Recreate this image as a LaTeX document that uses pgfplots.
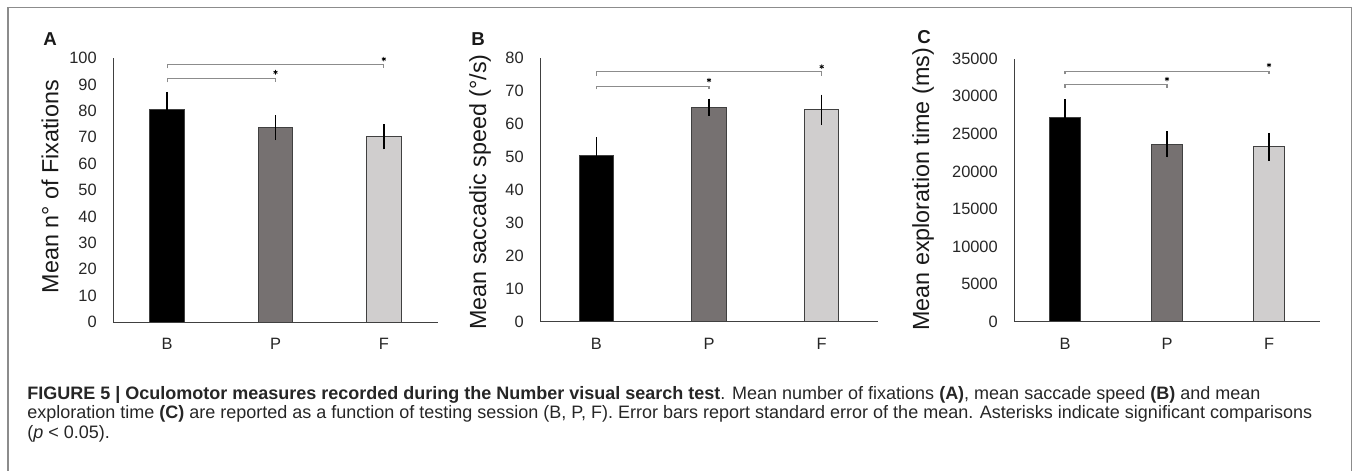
\documentclass[border=0pt]{standalone}
\usepackage{fontspec}
\setmainfont{Liberation Sans}
\usepackage{pgfplots}
\pgfplotsset{compat=1.18}

\definecolor{barP}{HTML}{767171}
\definecolor{barF}{HTML}{D0CECE}
\definecolor{edge}{HTML}{404040}
\definecolor{brk}{HTML}{8C8C8C}

\pgfplotsset{
  panel/.style={
    scale only axis,
    axis x line=bottom, axis y line=left,
    axis line style={black!75, line width=0.75pt, -},
    xmin=-0.5, xmax=2.5, ymin=0,
    xtick={0,1,2}, xticklabels={B,P,F},
    major tick length=0pt,
    scaled y ticks=false,
    /pgf/number format/assume math mode=true,
    /pgf/number format/1000 sep={},
    tick label style={font=\fontsize{12.3}{13}\selectfont, text=black!85},
    yticklabel style={inner sep=0pt, xshift=-12pt},
    xticklabel style={inner sep=0pt, anchor=north, yshift=-12pt},
    clip=false,
  },
  bar/.style={ybar, bar shift=0pt, draw=edge, line width=0.6pt,
    error bars/y dir=both, error bars/y explicit,
    error bars/error mark=none,
    error bars/error bar style={black, line width=1.1pt}},
  bracket/.style={brk, line width=0.8pt, sharp plot, mark=none},
  star/.style={only marks, mark=asterisk, mark size=1.7pt, black, line width=0.6pt},
}

\begin{document}
\begin{tikzpicture}
\useasboundingbox (0,0) rectangle (1015.5pt,-353.25pt);
\draw[black!45, line width=1pt] (6pt,-353.25pt) -- (6pt,-5.6pt) -- (1013.6pt,-5.6pt) -- (1013.6pt,-353.25pt);

% panel A
\begin{axis}[panel, at={(84.75pt,-241.5pt)}, anchor=south west,
  width=243.75pt, height=198pt, ymax=100, ytick={0,10,...,100}, bar width=0.32]
\addplot[bar, fill=black] coordinates {(0,80.7) +- (0,6.5)};
\addplot[bar, fill=barP] coordinates {(1,73.6) +- (0,4.7)};
\addplot[bar, fill=barF] coordinates {(2,70.2) +- (0,4.8)};
\addplot[bracket] coordinates {(0,90.8) (0,92.2) (1,92.2) (1,90.8)};
\addplot[bracket] coordinates {(0,96.1) (0,97.5) (2,97.5) (2,96.1)};
\addplot[star] coordinates {(1,94.6) (2,99.6)};
\end{axis}

% panel B
\begin{axis}[panel, at={(405pt,-241.3pt)}, anchor=south west,
  width=253.5pt, height=198pt, ymax=80, ytick={0,10,...,80}, bar width=0.305]
\addplot[bar, fill=black] coordinates {(0,50.4) +- (0,5.5)};
\addplot[bar, fill=barP] coordinates {(1,65.0) +- (0,2.6)};
\addplot[bar, fill=barF] coordinates {(2,64.2) +- (0,4.6)};
\addplot[bracket] coordinates {(0,70.4) (0,71.4) (1,71.4) (1,70.4)};
\addplot[bracket] coordinates {(0,74.5) (0,75.7) (2,75.7) (2,74.5)};
\addplot[star] coordinates {(1,73.2) (2,77.3)};
\end{axis}

% panel C
\begin{axis}[panel, at={(760.5pt,-241.3pt)}, anchor=south west,
  width=229.5pt, height=197.25pt, ymax=35000, ytick={0,5000,...,35000}, bar width=0.307]
\addplot[bar, fill=black] coordinates {(0,27240) +- (0,2360)};
\addplot[bar, fill=barP] coordinates {(1,23610) +- (0,1730)};
\addplot[bar, fill=barF] coordinates {(2,23290) +- (0,1860)};
\addplot[bracket] coordinates {(0,31140) (0,31590) (1,31590) (1,31140)};
\addplot[bracket] coordinates {(0,32920) (0,33360) (2,33360) (2,32920)};
\addplot[star] coordinates {(1,32300) (2,34160)};
\end{axis}

% y labels and panel letters
\begin{scope}[every node/.style={text=black!90}]
\node[rotate=90, font=\fontsize{17.5}{19}\selectfont] at (37.5pt,-140pt) {Mean n° of Fixations};
\node[rotate=90, font=\fontsize{17.5}{19}\selectfont] at (360pt,-144pt) {Mean saccadic speed (°/s)};
\node[rotate=90, font=\fontsize{17.5}{19}\selectfont] at (692.25pt,-142pt) {Mean exploration time (ms)};
\node[font=\fontsize{14}{15}\bfseries] at (37.5pt,-29.25pt) {A};
\node[font=\fontsize{14}{15}\bfseries] at (358.5pt,-29.25pt) {B};
\node[font=\fontsize{14}{15}\bfseries] at (693pt,-27.75pt) {C};
\end{scope}

% caption (anchor is the baseline of the last line)
\node[anchor=base west, inner sep=0pt, align=left, text=black!85,
  font=\fontsize{13.5}{14.4}\selectfont] at (20.25pt,-328.5pt)
  {\textbf{FIGURE 5 | Oculomotor measures recorded during the Number visual search test}. Mean number of fixations \textbf{(A)}, mean saccade speed \textbf{(B)} and mean\\
   exploration time \textbf{(C)} are reported as a function of testing session (B, P, F). Error bars report standard error of the mean. Asterisks indicate significant comparisons\\
   (\textit{p} < 0.05).};
\end{tikzpicture}
\end{document}
